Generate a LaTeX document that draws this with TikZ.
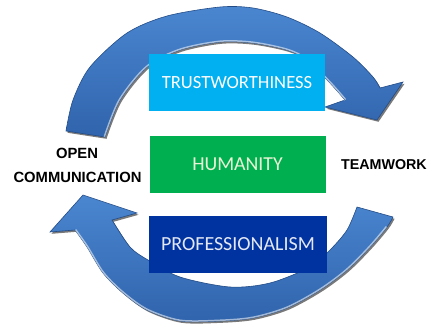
\documentclass[tikz,border=0pt]{standalone}
\usepackage{fontspec}
\setmainfont{Carlito}
\newfontfamily\lblfont{Liberation Sans}
\definecolor{trustc}{HTML}{00B0F0}
\definecolor{humc}{HTML}{00B050}
\definecolor{profc}{HTML}{0033A0}
\definecolor{arrlight}{HTML}{4A86D0}
\definecolor{arrdark}{HTML}{3064AC}
\definecolor{arredge}{HTML}{234C86}
\newcommand\TopArrowPath{(66,131) -- plot[smooth] coordinates {(66,131) (73,100) (90,67) (127,33) (167,16) (220,7) (253,8) (287,17) (320,33) (353,57) (373,77) (380,88)} -- (403,82) -- (377,120) -- (325,107) -- (345,100) -- plot[smooth] coordinates {(345,100) (330,83) (307,60) (287,50) (253,43) (220,42) (180,50) (147,67) (120,100) (105,137)} -- cycle}
\newcommand\TopInner{plot[smooth] coordinates {(345,100) (330,83) (307,60) (287,50) (253,43) (220,42) (180,50) (147,67) (120,100) (105,137)}}
\newcommand\BotArrowPath{(83,195) -- (137,213) -- (112,220) -- plot[smooth] coordinates {(112,220) (130,247) (148,260) (180,277) (230,287) (270,283) (310,267) (330,250) (347,230) (357,207)} -- (393,217) -- plot[smooth] coordinates {(393,217) (387,227) (370,247) (347,270) (320,290) (287,308) (253,318) (220,321) (180,321) (147,310) (123,293) (103,273) (87,247) (75,230)} -- (50,232) -- cycle}
\newcommand\BotOuter{plot[smooth] coordinates {(387,227) (370,247) (347,270) (320,290) (287,308) (253,318) (220,321) (180,321) (147,310) (123,293) (103,273) (87,247) (75,230)}}
\tikzset{
  boxnode/.style={minimum width=176pt, minimum height=57pt, inner sep=0pt},
  lbl/.style={font=\lblfont\bfseries\fontsize{14.8}{16}\selectfont, text=black, inner sep=0pt},
  arrowshadow/.style={fill=black!75, opacity=0.7},
  arrowbody/.style={top color=arrlight, bottom color=arrdark, draw=arredge, line width=0.6pt},
  highlight/.style={draw=white, opacity=0.55, line width=3pt}
}
\begin{document}
\begin{tikzpicture}[x=1pt,y=-1pt]
\useasboundingbox (0,0) rectangle (428,327);
% top arrow
\fill[arrowshadow] [shift={(1.5,1.8)}] \TopArrowPath;
\shade[arrowbody] \TopArrowPath;
\begin{scope}
  \clip \TopArrowPath;
  \draw[highlight] \TopInner;
\end{scope}
% bottom arrow
\fill[arrowshadow] [shift={(1.5,1.8)}] \BotArrowPath;
\shade[arrowbody] \BotArrowPath;
\begin{scope}
  \clip \BotArrowPath;
  \draw[highlight] \BotOuter;
\end{scope}
% boxes
\node[boxnode, fill=trustc, text=white, font=\fontsize{18.6}{20}\selectfont] (trust) at (237,82.5) {TRUSTWORTHINESS};
\node[boxnode, fill=humc, text={rgb,255:red,234;green,243;blue,214}, font=\fontsize{19.8}{21}\selectfont] (hum) at (237.5,164.5) {HUMANITY};
\node[boxnode, fill=profc, text={rgb,255:red,228;green,232;blue,244}, minimum width=178pt, font=\fontsize{20}{22}\selectfont] (prof) at (238,244.5) {PROFESSIONALISM};
% labels
\node[lbl] (open) at (77,153) {OPEN};
\node[lbl] (comm) at (77.5,177) {COMMUNICATION};
\node[lbl, anchor=east, font=\lblfont\bfseries\fontsize{14.3}{16}\selectfont] (team) at (427,165) {TEAMWORK};
\end{tikzpicture}
\end{document}
